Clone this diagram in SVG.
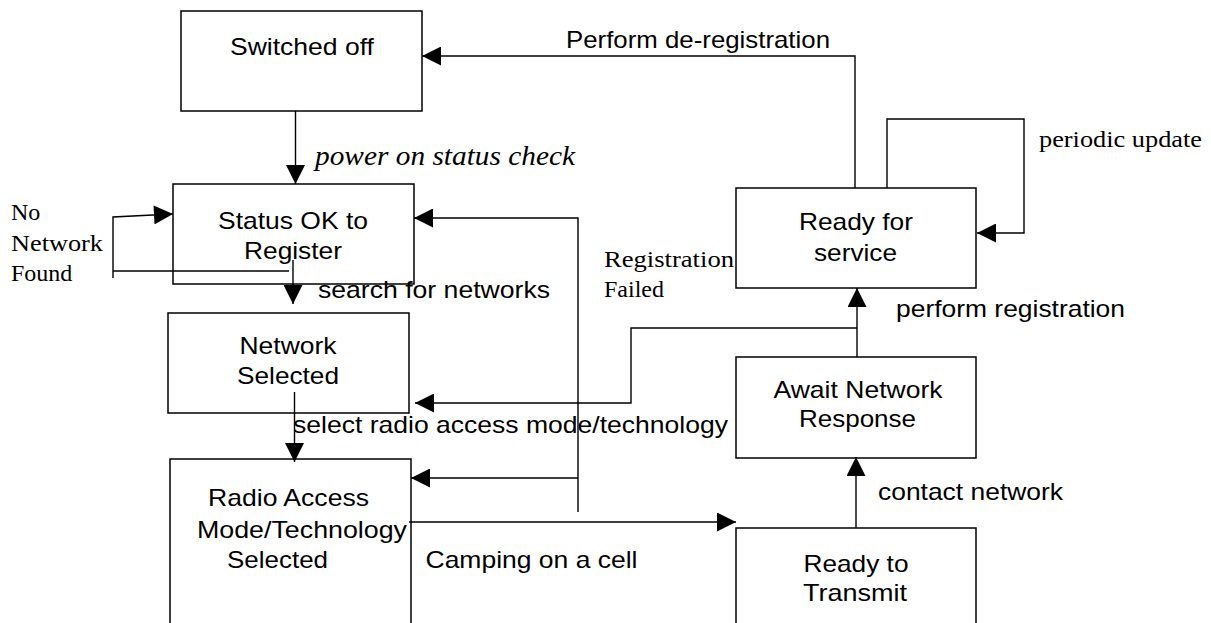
<svg xmlns="http://www.w3.org/2000/svg" width="1211" height="623" viewBox="0 0 1211 623">
<style>
.box{fill:#fff;stroke:#000;stroke-width:1.5}
.ln{fill:none;stroke:#000;stroke-width:1.4}
.t{font-family:"Liberation Sans",Arial,sans-serif;font-size:24px;fill:#000}
.c{text-anchor:middle}
.s{font-family:"Liberation Serif","Times New Roman",serif;font-size:24px;fill:#000}
.i{font-style:italic;font-size:28px}
</style>
<defs>
<marker id="ah" viewBox="0 0 20 20" markerWidth="20" markerHeight="19" refX="20" refY="10" orient="auto" markerUnits="userSpaceOnUse">
<path d="M0,0 L20,10 L0,20 z" fill="#000"/>
</marker>
</defs>
<rect width="1211" height="623" fill="#fff"/>
<g id="n-switched-off">
<rect class="box" x="181" y="11" width="241" height="100"/>
<text class="t c" x="302" y="55" textLength="144" lengthAdjust="spacingAndGlyphs">Switched off</text>
</g>
<g id="n-status-ok">
<rect class="box" x="173" y="184" width="241" height="100"/>
<text class="t c" x="293" y="229" textLength="150" lengthAdjust="spacingAndGlyphs">Status OK to</text>
<text class="t c" x="293" y="259" textLength="98" lengthAdjust="spacingAndGlyphs">Register</text>
</g>
<g id="n-network-selected">
<rect class="box" x="168" y="313" width="241" height="100"/>
<text class="t c" x="288" y="354" textLength="97" lengthAdjust="spacingAndGlyphs">Network</text>
<text class="t c" x="288" y="384" textLength="102" lengthAdjust="spacingAndGlyphs">Selected</text>
</g>
<g id="n-radio-access">
<rect class="box" x="170" y="459" width="241" height="180"/>
<text class="t c" x="288.5" y="506" textLength="161" lengthAdjust="spacingAndGlyphs">Radio Access</text>
<text class="t" x="197" y="538" textLength="210" lengthAdjust="spacingAndGlyphs">Mode/Technology</text>
<text class="t" x="227" y="568" textLength="101" lengthAdjust="spacingAndGlyphs">Selected</text>
</g>
<g id="n-ready-service">
<rect class="box" x="736" y="188" width="240" height="100"/>
<text class="t c" x="856" y="230" textLength="114" lengthAdjust="spacingAndGlyphs">Ready for</text>
<text class="t c" x="855.5" y="261" textLength="83" lengthAdjust="spacingAndGlyphs">service</text>
</g>
<g id="n-await">
<rect class="box" x="736" y="357" width="240" height="101"/>
<text class="t c" x="858" y="398" textLength="169" lengthAdjust="spacingAndGlyphs">Await Network</text>
<text class="t c" x="857.5" y="427" textLength="117" lengthAdjust="spacingAndGlyphs">Response</text>
</g>
<g id="n-ready-transmit">
<rect class="box" x="736" y="528" width="240" height="110"/>
<text class="t c" x="856" y="572" textLength="105" lengthAdjust="spacingAndGlyphs">Ready to</text>
<text class="t c" x="855" y="601" textLength="104" lengthAdjust="spacingAndGlyphs">Transmit</text>
</g>
<g id="connectors">
<path class="ln" d="M295.5,111 V184" marker-end="url(#ah)"/>
<path class="ln" d="M113,278 V217 L173,214" marker-end="url(#ah)"/>
<path class="ln" d="M113,271 H289"/>
<path class="ln" d="M293,260 V304" marker-end="url(#ah)"/>
<path class="ln" d="M294.5,392 V462" marker-end="url(#ah)"/>
<path class="ln" d="M578,512 V218 H414" marker-end="url(#ah)"/>
<path class="ln" d="M578,478 H411" marker-end="url(#ah)"/>
<path class="ln" d="M409,522 H736" marker-end="url(#ah)"/>
<path class="ln" d="M856,528 V457" marker-end="url(#ah)"/>
<path class="ln" d="M857,357 V288" marker-end="url(#ah)"/>
<path class="ln" d="M857,328 H631 V403 H415" marker-end="url(#ah)"/>
<path class="ln" d="M887,188 V119 H1024 V233 H977" marker-end="url(#ah)"/>
<path class="ln" d="M855,188 V56 H422" marker-end="url(#ah)"/>
</g>
<g id="labels">
<text class="s i" x="315" y="165" textLength="260" lengthAdjust="spacingAndGlyphs">power on status check</text>
<text class="s" x="11" y="220">No</text>
<text class="s" x="11" y="251" textLength="92" lengthAdjust="spacingAndGlyphs">Network</text>
<text class="s" x="11" y="281">Found</text>
<text class="t" x="318" y="298" textLength="232" lengthAdjust="spacingAndGlyphs">search for networks</text>
<text class="t" x="293" y="433" textLength="435" lengthAdjust="spacingAndGlyphs">select radio access mode/technology</text>
<text class="t" x="425.5" y="568" textLength="212" lengthAdjust="spacingAndGlyphs">Camping on a cell</text>
<text class="t" x="566" y="48" textLength="264" lengthAdjust="spacingAndGlyphs">Perform de-registration</text>
<text class="s" x="1039" y="147" textLength="163" lengthAdjust="spacingAndGlyphs">periodic update</text>
<text class="s" x="604" y="267" textLength="130" lengthAdjust="spacingAndGlyphs">Registration</text>
<text class="s" x="604" y="297">Failed</text>
<text class="t" x="896" y="317" textLength="229" lengthAdjust="spacingAndGlyphs">perform registration</text>
<text class="t" x="878" y="500" textLength="185" lengthAdjust="spacingAndGlyphs">contact network</text>
</g>
</svg>
